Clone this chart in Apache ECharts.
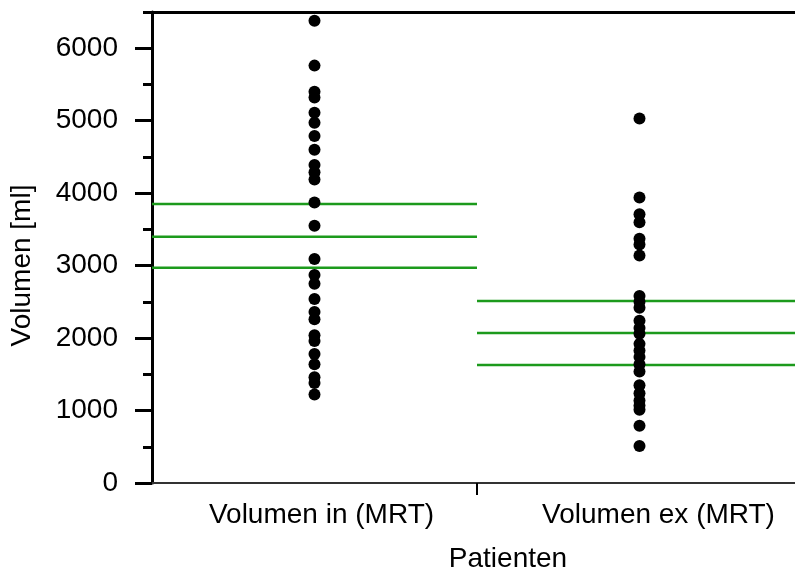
<!DOCTYPE html>
<html>
<head>
<meta charset="utf-8">
<script src="https://cdn.jsdelivr.net/npm/echarts@6/dist/echarts.min.js"></script>
<style>
  html, body { margin: 0; padding: 0; background: #fff; }
  #chart { width: 795px; height: 580px; }
</style>
</head>
<body>
<div id="chart"></div>
<script>
// Measured volumes per patient (ml)
const categories = ['Volumen in (MRT)', 'Volumen ex (MRT)'];
const volumeIn = [6380, 5760, 5400, 5320, 5110, 4970, 4790, 4600, 4390, 4290, 4190,
                  3870, 3550, 3090, 2870, 2750, 2540, 2360, 2260, 2040, 1960, 1780,
                  1640, 1460, 1380, 1220];
const volumeEx = [5030, 3940, 3710, 3600, 3370, 3290, 3140, 2580, 2500, 2420, 2240,
                  2140, 2060, 1920, 1830, 1740, 1640, 1540, 1350, 1240, 1140, 1070,
                  1010, 790, 510];
// Mean and spread lines per group (upper, mean, lower)
const levelsIn = [3850, 3400, 2970];
const levelsEx = [2510, 2070, 1630];
// Y-axis tick values
const majorTicks = [0, 1000, 2000, 3000, 4000, 5000, 6000];
const minorTicks = [500, 1500, 2500, 3500, 4500, 5500, 6500];

const FONT = '"Liberation Sans", Arial, sans-serif';
const GREEN = '#1c9a1c';

const levelSeries = [];
levelsIn.forEach(v => levelSeries.push([[0, v], [1, v]]));
levelsEx.forEach(v => levelSeries.push([[1, v], [2, v]]));

const chart = echarts.init(document.getElementById('chart'), null, { renderer: 'canvas' });
chart.setOption({
  animation: false,
  backgroundColor: '#fff',
  grid: { left: 152, right: -7, top: 12, bottom: 97, containLabel: false, outerBoundsMode: 'none' },
  xAxis: [
    {
      type: 'category',
      data: categories,
      position: 'bottom',
      boundaryGap: true,
      axisLine: { show: true, onZero: false, lineStyle: { color: '#333', width: 2 } },
      axisTick: { show: false },
      axisLabel: {
        interval: 0,
        hideOverlap: false,
        margin: 18,
        fontSize: 28,
        fontFamily: FONT,
        color: '#000',
        formatter: (v, i) => (i === 0 ? '{a|' + v + '}' : '{b|' + v + '}'),
        rich: {
          a: { fontSize: 28, fontFamily: FONT, color: '#000', padding: [0, 0, 0, 14] },
          b: { fontSize: 28, fontFamily: FONT, color: '#000', padding: [0, 0, 0, 38] }
        }
      },
      name: 'Patienten',
      nameLocation: 'middle',
      nameGap: 62,
      nameTextStyle: { fontSize: 28, fontFamily: FONT, color: '#000', padding: [0, 0, 0, 62] },
      splitLine: { show: false }
    },
    {
      // top frame line; also the scale for the group level lines
      type: 'value',
      min: 0,
      max: 2,
      position: 'top',
      axisLine: { show: true, onZero: false, lineStyle: { color: '#000', width: 3 } },
      axisTick: { show: false },
      axisLabel: { show: false },
      splitLine: { show: false }
    },
    {
      // single divider tick between the two groups
      type: 'value',
      min: 0,
      max: 2,
      position: 'bottom',
      axisLine: { show: false, onZero: false },
      axisTick: { show: true, customValues: [1], length: 12, lineStyle: { color: '#000', width: 2 } },
      axisLabel: { show: false },
      splitLine: { show: false }
    }
  ],
  yAxis: [
    {
      type: 'value',
      min: 0,
      max: 6500,
      interval: 500,
      position: 'left',
      axisLine: { show: true, onZero: false, lineStyle: { color: '#000', width: 3 } },
      axisTick: { show: true, customValues: majorTicks, length: 17, lineStyle: { color: '#000', width: 3 } },
      axisLabel: {
        customValues: majorTicks,
        formatter: (v) => String(v),
        margin: 34,
        fontSize: 28,
        fontFamily: FONT,
        color: '#000'
      },
      splitLine: { show: false },
      name: 'Volumen [ml]',
      nameLocation: 'middle',
      nameGap: 116,
      nameTextStyle: { fontSize: 28, fontFamily: FONT, color: '#000', padding: [0, 36, 0, 0] }
    },
    {
      type: 'value',
      min: 0,
      max: 6500,
      interval: 500,
      position: 'left',
      axisLine: { show: false },
      axisTick: { show: true, customValues: minorTicks, length: 9, lineStyle: { color: '#000', width: 3 } },
      axisLabel: { show: false },
      splitLine: { show: false }
    }
  ],
  series: [
    ...levelSeries.map(d => ({
      type: 'line',
      xAxisIndex: 1,
      yAxisIndex: 0,
      data: d,
      symbol: 'none',
      lineStyle: { color: GREEN, width: 2.5 },
      z: 2
    })),
    {
      type: 'scatter',
      xAxisIndex: 0,
      yAxisIndex: 0,
      data: volumeIn.map(v => [0, v]).concat(volumeEx.map(v => [1, v])),
      symbol: 'circle',
      symbolSize: 12,
      itemStyle: { color: '#000', opacity: 1 },
      z: 5
    }
  ]
});
</script>
</body>
</html>
